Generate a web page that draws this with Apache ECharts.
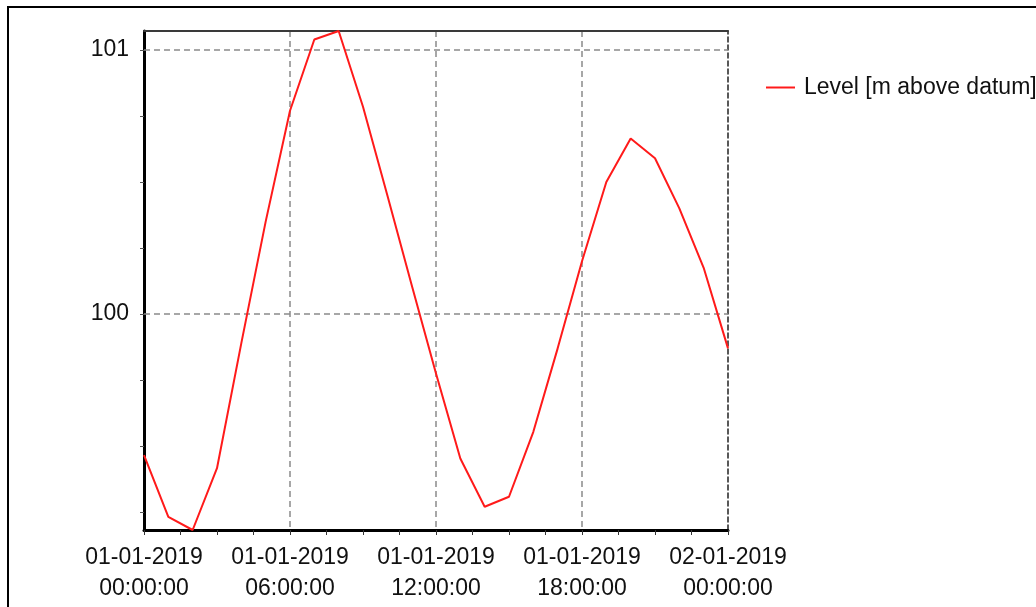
<!DOCTYPE html>
<html><head><meta charset="utf-8">
<script src="https://cdn.jsdelivr.net/npm/echarts@6/dist/echarts.min.js"></script>
<style>
html,body{margin:0;padding:0;background:#fff;overflow:hidden;}
#chart{position:absolute;left:0;top:0;width:1036px;height:607px;}
#frame{position:absolute;left:7px;top:6px;width:1100px;height:700px;border-left:2px solid #000;border-top:2px solid #000;pointer-events:none;}
</style></head>
<body>
<div id="chart"></div><div id="frame"></div>
<script>
// ---- data ----
const hours = [0, 1, 2, 3, 4, 5, 6, 7, 8, 9, 10, 11, 12, 13, 14, 15, 16, 17, 18, 19, 20, 21, 22, 23, 24];
const level = [99.466, 99.232, 99.182, 99.416, 99.89, 100.35, 100.77, 101.04, 101.072, 100.785, 100.45, 100.11,
               99.775, 99.453, 99.27, 99.308, 99.554, 99.87, 100.2, 100.50, 100.665, 100.59, 100.40, 100.175, 99.87];
const xTickHours = [0, 6, 12, 18, 24];
const xTickLabels = ['01-01-2019\n00:00:00', '01-01-2019\n06:00:00', '01-01-2019\n12:00:00', '01-01-2019\n18:00:00', '02-01-2019\n00:00:00'];
const yTickValues = [99.25, 99.5, 99.75, 100, 100.25, 100.5, 100.75, 101];
const yLabelValues = [100, 101];
const yGridValues = [100, 101];
const seriesName = 'Level [m above datum]';

const FONT = "'Liberation Sans', Arial, sans-serif";
const TXT = '#111';
const yMin = Math.min(...level);
const yMax = Math.max(...level);
const gridDash = {color: '#8a8a8a', type: [6, 4], width: 1.5};

const chart = echarts.init(document.getElementById('chart'), null, {renderer: 'canvas'});
chart.setOption({
  animation: false,
  backgroundColor: 'transparent',
  textStyle: {fontFamily: FONT},
  grid: {left: 144, right: 308, top: 31, bottom: 77, containLabel: false},
  legend: {
    left: 766, top: 76, padding: 0, itemWidth: 29, itemHeight: 2,
    data: [{name: seriesName, icon: 'rect'}],
    textStyle: {fontFamily: FONT, fontSize: 23, color: TXT, padding: [0, 0, 0, 4]}
  },
  xAxis: [{
    type: 'value', min: xTickHours[0], max: xTickHours[xTickHours.length - 1], interval: 6,
    position: 'bottom',
    axisLine: {show: true, onZero: false, lineStyle: {color: '#000', width: 3}},
    axisTick: {show: true, length: 5, lineStyle: {color: '#333', width: 1}},
    minorTick: {show: true, splitNumber: 4, length: 5, lineStyle: {color: '#333', width: 1}},
    splitLine: {show: true, showMinLine: false, showMaxLine: false, lineStyle: gridDash},
    axisLabel: {
      show: true, margin: 12, fontFamily: FONT, fontSize: 23, lineHeight: 31, color: TXT,
      showMinLabel: true, showMaxLabel: true, hideOverlap: false,
      formatter: v => { const i = xTickHours.indexOf(v); return i >= 0 ? xTickLabels[i] : ''; }
    }
  }, {
    type: 'value', min: xTickHours[0], max: xTickHours[xTickHours.length - 1], position: 'top',
    axisLine: {show: true, onZero: false, lineStyle: {color: '#3a3a3a', width: 2}},
    axisTick: {show: false}, axisLabel: {show: false}, splitLine: {show: false}
  }],
  yAxis: [{
    type: 'value', min: yMin, max: yMax, position: 'left',
    axisLine: {show: true, onZero: false, lineStyle: {color: '#000', width: 3}},
    axisTick: {show: true, customValues: yTickValues, length: 4, lineStyle: {color: '#555', width: 1}},
    axisLabel: {show: true, customValues: yLabelValues, margin: 15, fontFamily: FONT, fontSize: 23, color: TXT,
                formatter: v => String(v)},
    splitLine: {show: false}
  }, {
    type: 'value', min: yMin, max: yMax, position: 'right',
    axisLine: {show: true, onZero: false, lineStyle: {color: '#222', width: 1.5, type: [5, 3]}},
    axisTick: {show: false}, axisLabel: {show: false}, splitLine: {show: false}
  }],
  series: [{
    name: seriesName, type: 'line', xAxisIndex: 0, yAxisIndex: 0,
    data: hours.map((h, i) => [h, level[i]]),
    showSymbol: false, symbol: 'none',
    lineStyle: {color: '#ff1a1a', width: 2},
    itemStyle: {color: '#ff1a1a'},
    z: 3,
    markLine: {
      silent: true, symbol: ['none', 'none'], z: 1,
      label: {show: false},
      lineStyle: gridDash,
      emphasis: {disabled: true},
      data: yGridValues.map(v => ({yAxis: v}))
    }
  }]
});
</script>
</body></html>
